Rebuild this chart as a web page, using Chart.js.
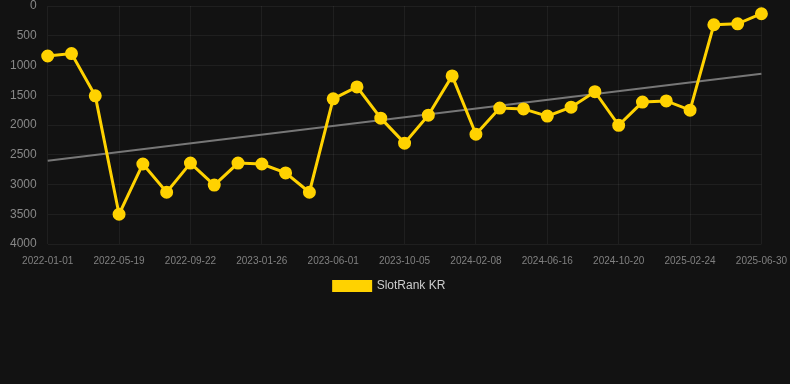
<!DOCTYPE html>
<html>
<head>
<meta charset="utf-8">
<script src="https://cdn.jsdelivr.net/npm/chart.js@4"></script>
<style>
  html, body { margin: 0; padding: 0; background: #121212; }
  #wrap { width: 790px; height: 302px; }
</style>
</head>
<body>
<div id="wrap"><canvas id="rankChart"></canvas></div>
<script>
const dates = [
  '2022-01-01', '2022-02-24', '2022-04-07', '2022-05-19', '2022-06-30', '2022-08-11',
  '2022-09-22', '2022-11-03', '2022-12-15', '2023-01-26', '2023-03-09', '2023-04-20',
  '2023-06-01', '2023-07-13', '2023-08-24', '2023-10-05', '2023-11-16', '2023-12-28',
  '2024-02-08', '2024-03-21', '2024-05-02', '2024-06-16', '2024-07-28', '2024-09-08',
  '2024-10-20', '2024-12-01', '2025-01-12', '2025-02-24', '2025-04-07', '2025-05-19',
  '2025-06-30'
];

const rank = [
  840, 800, 1510, 3500, 2655, 3130,
  2640, 3010, 2640, 2655, 2805, 3130,
  1560, 1360, 1885, 2305, 1835, 1175,
  2155, 1715, 1730, 1850, 1700, 1440,
  2005, 1615, 1595, 1750, 315, 300,
  130
];

// trend line, read at first and last point
const trendStart = 2600;
const trendEnd = 1140;

const yTicks = [0, 500, 1000, 1500, 2000, 2500, 3000, 3500, 4000];

const trend = dates.map((d, i) =>
  i === 0 ? trendStart : (i === dates.length - 1 ? trendEnd : null)
);

const FONT = "'Liberation Sans', Arial, sans-serif";
const ctx = document.getElementById('rankChart').getContext('2d');

new Chart(ctx, {
  type: 'line',
  data: {
    labels: dates,
    datasets: [
      {
        label: 'SlotRank KR',
        data: rank,
        borderColor: '#ffd200',
        backgroundColor: '#ffd200',
        borderWidth: 3,
        pointRadius: 5,
        pointHoverRadius: 6,
        tension: 0,
        order: 1
      },
      {
        label: 'trend',
        data: trend,
        borderColor: '#777777',
        borderWidth: 2,
        pointRadius: 0,
        spanGaps: true,
        order: 2
      }
    ]
  },
  options: {
    responsive: true,
    maintainAspectRatio: false,
    animation: false,
    layout: { autoPadding: false, padding: { left: 7, right: 18 } },
    plugins: {
      legend: {
        position: 'bottom',
        labels: {
          color: '#cccccc',
          boxWidth: 37,
          boxHeight: 9,
          font: { size: 12, family: FONT },
          filter: item => item.text !== 'trend'
        }
      },
      tooltip: { enabled: false }
    },
    scales: {
      y: {
        reverse: true,
        min: 0,
        max: 4000,
        afterBuildTicks: axis => { axis.ticks = yTicks.map(v => ({ value: v })); },
        grid: { color: 'rgba(255,255,255,0.06)', tickColor: 'transparent' },
        border: { display: false },
        ticks: {
          color: '#888888',
          font: { size: 12, family: FONT, lineHeight: 0.5 },
          callback: v => String(v)
        }
      },
      x: {
        grid: { color: 'rgba(255,255,255,0.06)', tickColor: 'transparent' },
        border: { display: false },
        ticks: {
          color: '#808080',
          font: { size: 10, family: FONT },
          autoSkip: false,
          maxRotation: 0,
          callback: (v, i) => (i % 3 === 0 ? dates[i] : null)
        }
      }
    }
  }
});
</script>
</body>
</html>
